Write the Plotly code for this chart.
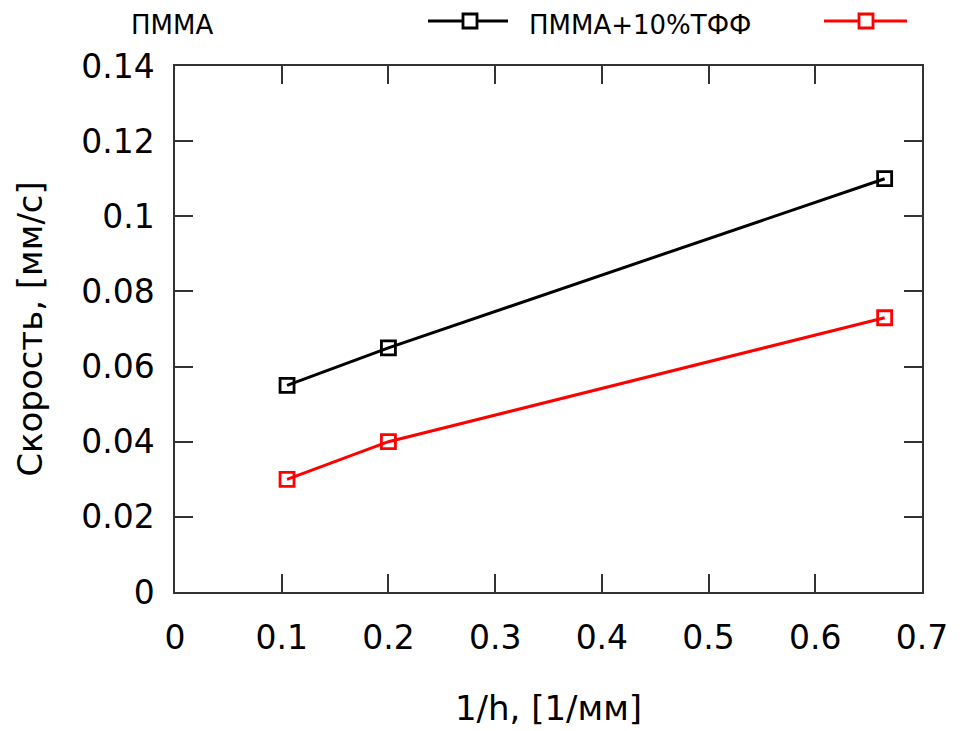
import plotly.graph_objects as go

x_vals = [0.105, 0.2, 0.665]
pmma = [0.055, 0.065, 0.110]
pmma_tff = [0.030, 0.040, 0.073]
series_names = ["ПММА", "ПММА+10%ТФФ"]
series_colors = ["#000000", "#ff0000"]
x_ticks = [0, 0.1, 0.2, 0.3, 0.4, 0.5, 0.6, 0.7]
y_ticks = [0, 0.02, 0.04, 0.06, 0.08, 0.1, 0.12, 0.14]

FONT = "DejaVu Sans"

fig = go.Figure()
for name, ys, col in zip(series_names, [pmma, pmma_tff], series_colors):
    fig.add_trace(go.Scatter(
        x=x_vals, y=ys, mode="lines+markers", name=name,
        line=dict(color=col, width=3),
        marker=dict(symbol="square-open", size=14, color=col, line=dict(width=2.8, color=col)),
        showlegend=False,
    ))

OFF = 8  # page body margin
W, H = 964, 731
L, R, T, B = 175 - OFF, 50, 66 - OFF, 147
pw, ph = W - L - R, H - T - B

def px2x(px):
    return (px - OFF - L) / pw

def py2y(py):
    return (H - B - (py - OFF)) / ph

shapes = []
annotations = []
ly = py2y(21)
ytop = py2y(OFF)
# legend: text then sample (gnuplot style)
legend_spec = [
    (series_names[0], 129, 428, 508, 470, series_colors[0]),
    (series_names[1], 527, 824, 907, 866, series_colors[1]),
]
for name, tx, sx0, sx1, mx, col in legend_spec:
    annotations.append(dict(
        text=name, x=px2x(tx), y=ytop, xref="paper", yref="paper",
        xanchor="left", yanchor="top", showarrow=False,
        font=dict(family=FONT, size=26, color="#000"),
    ))
    shapes.append(dict(type="line", xref="paper", yref="paper",
                       x0=px2x(sx0), x1=px2x(sx1), y0=ly, y1=ly,
                       line=dict(color=col, width=3)))
    shapes.append(dict(type="rect", xref="paper", yref="paper",
                       xsizemode="pixel", ysizemode="pixel",
                       xanchor=px2x(mx), yanchor=ly, x0=-7, x1=7, y0=-7, y1=7,
                       fillcolor="white", line=dict(color=col, width=2.8)))

axis_common = dict(
    showgrid=False, zeroline=False, showline=True, linecolor="#333", linewidth=1.5,
    mirror="ticks", ticks="inside", ticklen=18, tickwidth=1.5, tickcolor="#333",
    tickfont=dict(family=FONT, size=33, color="#000"),
)

fig.update_layout(
    width=W, height=H,
    margin=dict(l=L, r=R, t=T, b=B),
    plot_bgcolor="white", paper_bgcolor="white",
    xaxis=dict(range=[0, 0.7], tickvals=x_ticks, ticktext=[f"{v:g}" for v in x_ticks],
               ticklabelstandoff=16,
               title=dict(text="1/h, [1/мм]", font=dict(family=FONT, size=34, color="#000"), standoff=40),
               **axis_common),
    yaxis=dict(range=[0, 0.14], tickvals=y_ticks, ticktext=[f"{v:g}" for v in y_ticks],
               ticklabelstandoff=12,
               title=dict(text="Скорость, [мм/с]", font=dict(family=FONT, size=34, color="#000"), standoff=28),
               **axis_common),
    shapes=shapes,
    annotations=annotations,
    showlegend=False,
)

fig.write_html("out.html")
